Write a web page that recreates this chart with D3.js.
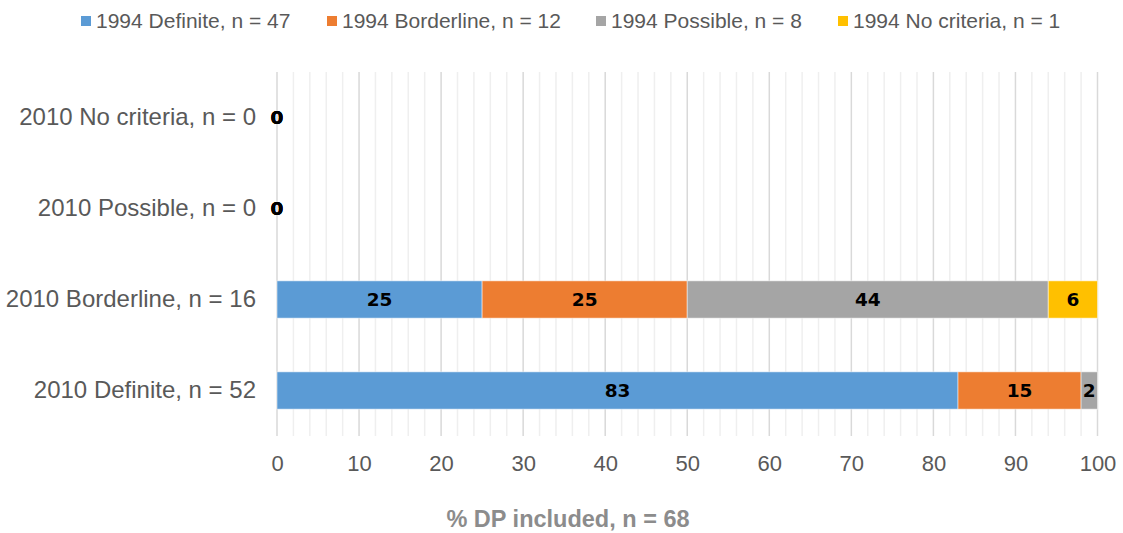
<!DOCTYPE html>
<html>
<head>
<meta charset="utf-8">
<script src="https://cdn.jsdelivr.net/npm/d3@7"></script>
<style>
  body { margin: 0; background: #fff; }
  text { font-family: "Liberation Sans", Arial, sans-serif; }
</style>
</head>
<body>
<div id="chart"></div>
<script>
let width = 1123,
    height = 533,
    margin = ({ top: 72, right: 25, bottom: 97, left: 277 });

// 2010 categories, top to bottom
const categories = ["2010 No criteria, n = 0", "2010 Possible, n = 0", "2010 Borderline, n = 16", "2010 Definite, n = 52"];
// 1994 series (null = no label / no value)
const seriesNames = ["1994 Definite, n = 47", "1994 Borderline, n = 12", "1994 Possible, n = 8", "1994 No criteria, n = 1"];
const definite1994 = [0, 0, 25, 83];
const borderline1994 = [0, 0, 25, 15];
const possible1994 = [0, 0, 44, 2];
const noCriteria1994 = [0, 0, 6, null];
const xTicks = [0, 10, 20, 30, 40, 50, 60, 70, 80, 90, 100];
const colors = ["#5B9BD5", "#ED7D31", "#A5A5A5", "#FFC000"];

const seriesValues = [definite1994, borderline1994, possible1994, noCriteria1994];

const svg = d3.select("#chart")
  .append("svg")
  .attr("width", width)
  .attr("height", height);

let x = d3.scaleLinear()
  .domain([0, 100])
  .range([margin.left, width - margin.right - 0.5]);

let y = d3.scaleBand()
  .domain(categories)
  .range([margin.top, height - margin.bottom])
  .paddingInner(0.59)
  .paddingOuter(0.295);

// minor gridlines every 2
svg.append("g")
  .selectAll("line")
  .data(d3.range(2, 100, 2).filter(d => d % 10 !== 0))
  .join("line")
  .attr("x1", d => x(d)).attr("x2", d => x(d))
  .attr("y1", margin.top).attr("y2", height - margin.bottom)
  .attr("stroke", "#efefef")
  .attr("stroke-width", 1.5);

// major gridlines
svg.append("g")
  .selectAll("line")
  .data(xTicks)
  .join("line")
  .attr("x1", d => x(d)).attr("x2", d => x(d))
  .attr("y1", margin.top).attr("y2", height - margin.bottom)
  .attr("stroke", "#d9d9d9")
  .attr("stroke-width", 1.5);

// stacked bars
let stacks = categories.map((c, i) => {
  let start = 0;
  return seriesValues.map((s, j) => {
    let v = s[i];
    let seg = { cat: c, series: j, value: v, x0: start, x1: start + (v || 0) };
    start += v || 0;
    return seg;
  });
}).flat();

svg.append("g")
  .selectAll("rect")
  .data(stacks.filter(d => d.value > 0))
  .join("rect")
  .attr("x", d => x(d.x0))
  .attr("y", d => y(d.cat))
  .attr("width", d => x(d.x1) - x(d.x0))
  .attr("height", y.bandwidth())
  .attr("fill", d => colors[d.series])
  .attr("stroke", "#ffffff")
  .attr("stroke-opacity", 0.5)
  .attr("stroke-width", 1);

// data labels
svg.append("g")
  .selectAll("text")
  .data(stacks.filter(d => d.value !== null))
  .join("text")
  .attr("x", d => (x(d.x0) + x(d.x1)) / 2)
  .attr("y", d => y(d.cat) + y.bandwidth() / 2 + 1)
  .attr("text-anchor", "middle")
  .attr("dominant-baseline", "middle")
  .attr("font-size", 18.5)
  .attr("font-weight", "bold")
  .style("font-family", "'DejaVu Sans', sans-serif")
  .attr("fill", "#000")
  .text(d => d.value);

// x axis labels
const xAxis = svg.append("g")
  .attr("transform", `translate(0,${height - margin.bottom})`)
  .call(d3.axisBottom(x).tickValues(xTicks).tickSize(0).tickPadding(19));
xAxis.select(".domain").remove();
xAxis.selectAll("text")
  .attr("font-size", 22)
  .attr("fill", "#595959");

// y axis labels
const yAxis = svg.append("g")
  .attr("transform", `translate(${margin.left},0)`)
  .call(d3.axisLeft(y).tickSize(0).tickPadding(21));
yAxis.select(".domain").remove();
yAxis.selectAll("text")
  .attr("font-size", 24)
  .attr("fill", "#595959");

// axis title
svg.append("text")
  .attr("x", 568)
  .attr("y", 521)
  .attr("text-anchor", "middle")
  .attr("dominant-baseline", "middle")
  .attr("font-size", 23.5)
  .attr("font-weight", "bold")
  .attr("fill", "#8c8c8c")
  .text("% DP included, n = 68");

// legend
const legendX = [81, 327, 596, 838];
const legend = svg.append("g");
seriesNames.forEach((name, i) => {
  let g = legend.append("g").attr("transform", `translate(${legendX[i]},21)`);
  g.append("rect")
    .attr("x", 0).attr("y", -5)
    .attr("width", 10).attr("height", 10)
    .attr("fill", colors[i]);
  g.append("text")
    .attr("x", 15)
    .attr("y", 1)
    .attr("dominant-baseline", "middle")
    .attr("font-size", 21)
    .attr("fill", "#595959")
    .text(name);
});
</script>
</body>
</html>
